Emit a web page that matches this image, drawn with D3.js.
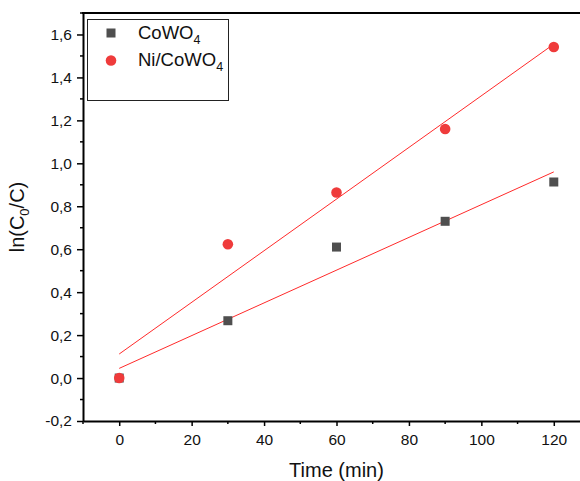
<!DOCTYPE html>
<html>
<head>
<meta charset="utf-8">
<script src="https://cdn.jsdelivr.net/npm/d3@7"></script>
<style>
  html, body { margin: 0; padding: 0; background: #fff; }
  svg { display: block; font-family: "Liberation Sans", Arial, sans-serif; }
</style>
</head>
<body>
<svg id="chart" width="580" height="481"></svg>
<script>
// ---- data ----
const times = [0, 30, 60, 90, 120];
const coWO4 = [0.0, 0.267, 0.61, 0.73, 0.913];
const niCoWO4 = [0.0, 0.623, 0.864, 1.16, 1.542];
// linear fit endpoints (at t = 0 and t = 120)
const fitX = [0, 120];
const fitCoWO4 = [0.045, 0.96];
const fitNiCoWO4 = [0.112, 1.555];
const xTicks = [0, 20, 40, 60, 80, 100, 120];
const xTickLabels = ["0", "20", "40", "60", "80", "100", "120"];
const yTicks = [-0.2, 0.0, 0.2, 0.4, 0.6, 0.8, 1.0, 1.2, 1.4, 1.6];
const yTickLabels = ["-0,2", "0,0", "0,2", "0,4", "0,6", "0,8", "1,0", "1,2", "1,4", "1,6"];
const xMinor = [-10, 10, 30, 50, 70, 90, 110, 130];
const yMinor = [-0.1, 0.1, 0.3, 0.5, 0.7, 0.9, 1.1, 1.3, 1.5, 1.7];

const svg = d3.select("#chart");
const L = 83, R = 590, T = 13, B = 421;
const x = d3.scaleLinear().domain([-10, 130]).range([L, R]);
const y = d3.scaleLinear().domain([-0.2, 1.7]).range([B, T]);

const sqColor = "#4f4f4f";
const ciColor = "#ef3b3b";
const lineColor = "#ff2a2a";

// fit lines
const line = d3.line().x(d => x(d[0])).y(d => y(d[1]));
svg.append("path").datum(fitX.map((t, i) => [t, fitCoWO4[i]]))
  .attr("d", line).attr("fill", "none").attr("stroke", lineColor).attr("stroke-width", 1);
svg.append("path").datum(fitX.map((t, i) => [t, fitNiCoWO4[i]]))
  .attr("d", line).attr("fill", "none").attr("stroke", lineColor).attr("stroke-width", 1);

// markers
const S = 9;
svg.selectAll("rect.co").data(times).enter().append("rect")
  .attr("x", (d) => x(d) - S / 2)
  .attr("y", (d, i) => y(coWO4[i]) - S / 2)
  .attr("width", S).attr("height", S).attr("fill", sqColor);
svg.selectAll("circle.ni").data(times).enter().append("circle")
  .attr("cx", d => x(d)).attr("cy", (d, i) => y(niCoWO4[i]))
  .attr("r", 5.3).attr("fill", ciColor);

// axes
const xAxis = d3.axisBottom(x).tickValues(xTicks).tickSize(5).tickSizeOuter(0)
  .tickFormat((d, i) => xTickLabels[i]).tickPadding(8);
const gx = svg.append("g").attr("transform", `translate(0,${B})`).call(xAxis);
const yAxis = d3.axisLeft(y).tickValues(yTicks).tickSize(6).tickSizeOuter(0)
  .tickFormat((d, i) => yTickLabels[i]).tickPadding(5);
const gy = svg.append("g").attr("transform", `translate(${L},0)`).call(yAxis);
[gx, gy].forEach(g => {
  g.select(".domain").attr("stroke", "#000").attr("stroke-width", 2);
  g.selectAll(".tick line").attr("stroke", "#000").attr("stroke-width", 1.5);
  g.selectAll(".tick text").attr("font-size", 15.5).attr("fill", "#111")
    .attr("font-family", '"Liberation Sans", Arial, sans-serif');
});
// minor ticks
svg.append("g").selectAll("line").data(xMinor).enter().append("line")
  .attr("x1", d => x(d)).attr("x2", d => x(d)).attr("y1", B).attr("y2", B + 3)
  .attr("stroke", "#000").attr("stroke-width", 1.5);
svg.append("g").selectAll("line").data(yMinor).enter().append("line")
  .attr("y1", d => y(d)).attr("y2", d => y(d)).attr("x1", L).attr("x2", L - 3)
  .attr("stroke", "#000").attr("stroke-width", 1.5);
// top frame
svg.append("line").attr("x1", L - 1).attr("x2", R).attr("y1", T).attr("y2", T)
  .attr("stroke", "#000").attr("stroke-width", 2);
svg.append("line").attr("x1", R).attr("x2", R).attr("y1", T).attr("y2", B)
  .attr("stroke", "#000").attr("stroke-width", 2);

// axis titles
svg.append("text").attr("x", (L + R) / 2).attr("y", 477).attr("text-anchor", "middle")
  .attr("font-size", 20).attr("fill", "#111").text("Time (min)");
const yt = svg.append("text").attr("transform", `translate(24,${(T + B) / 2}) rotate(-90)`)
  .attr("text-anchor", "middle").attr("font-size", 20).attr("fill", "#111");
yt.append("tspan").text("ln(C");
yt.append("tspan").attr("font-size", 13).attr("dy", 5).text("0");
yt.append("tspan").attr("dy", -5).text("/C)");

// legend
const lg = svg.append("g");
lg.append("rect").attr("x", 87.5).attr("y", 19.5).attr("width", 141).attr("height", 81)
  .attr("fill", "#fff").attr("stroke", "#222").attr("stroke-width", 1);
const legendItems = [
  { name: "CoWO", sub: "4", type: "square" },
  { name: "Ni/CoWO", sub: "4", type: "circle" }
];
legendItems.forEach((it, i) => {
  const cy = 33 + i * 27.5;
  if (it.type === "square") {
    lg.append("rect").attr("x", 111 - S / 2).attr("y", cy - S / 2).attr("width", S).attr("height", S).attr("fill", sqColor);
  } else {
    lg.append("circle").attr("cx", 111).attr("cy", cy).attr("r", 5.3).attr("fill", ciColor);
  }
  const t = lg.append("text").attr("x", 138).attr("y", cy + 5.5).attr("font-size", 18.5).attr("fill", "#111");
  t.append("tspan").text(it.name);
  t.append("tspan").attr("font-size", 12.5).attr("dy", 5).text(it.sub);
});
</script>
</body>
</html>
